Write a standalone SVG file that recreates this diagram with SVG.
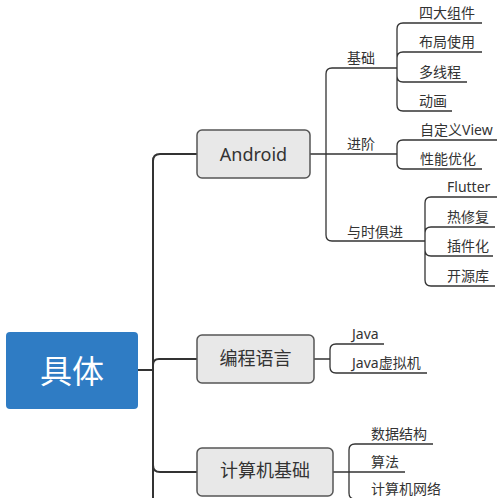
<svg xmlns="http://www.w3.org/2000/svg" width="500" height="498" viewBox="0 0 500 498">
<style>
text{font-family:"Noto Sans","Noto Sans CJK SC",sans-serif;fill:#333}
.main rect{fill:#e8e8e8;stroke:#555;stroke-width:1.5}
.main text{font-size:18px;text-anchor:middle}
.sub{font-size:14px}
.trunk{fill:none;stroke:#333;stroke-width:2}
.thin{fill:none;stroke:#333;stroke-width:1.3}
</style>
<g id="connectors">
<path class="trunk" d="M138,370 H153 M153,370 V161 Q153,154 160,154 H197 M153,370 V365 Q153,359 159,359 H197 M153,370 V465 Q153,472 160,472 H197 M153,370 V498"/>
<path class="thin" d="M310,154 H397 M326,154 V74 Q326,68 332,68 H397 M326,154 V235 Q326,241 332,241 H425"/>
<path class="thin" d="M397,68 V29 Q397,23 403,23 H482 M397,68 V58 Q397,52 403,52 H482 M397,68 V76 Q397,82 403,82 H467 M397,68 V105 Q397,111 403,111 H452"/>
<path class="thin" d="M397,154 V146 Q397,140 403,140 H497 M397,154 V163 Q397,169 403,169 H482"/>
<path class="thin" d="M425,241 V203 Q425,197 431,197 H497 M425,241 V233 Q425,227 431,227 H495 M425,241 V250 Q425,256 431,256 H493 M425,241 V280 Q425,286 431,286 H495"/>
<path class="thin" d="M314,359 H330 M330,359 V350 Q330,344 336,344 H384 M330,359 V367 Q330,373 336,373 H427"/>
<path class="thin" d="M333,472 H405 M349,472 V450 Q349,444 355,444 H433 M349,472 V493 Q349,499 355,499 H448"/>
</g>
<g id="root">
<rect x="6" y="332" width="132" height="77" rx="4" fill="#2f7cc4"/>
<text x="72" y="383" style="font-size:32px;fill:#fff;text-anchor:middle">具体</text>
</g>
<g id="android" class="main">
<rect x="197" y="130" width="113" height="48" rx="5"/>
<text x="253.5" y="161">Android</text>
</g>
<g id="biancheng" class="main">
<rect x="197" y="335" width="117" height="48" rx="5"/>
<text x="255.5" y="365">编程语言</text>
</g>
<g id="jisuanji" class="main">
<rect x="197" y="448" width="136" height="48" rx="5"/>
<text x="265" y="477">计算机基础</text>
</g>
<g id="android-children" class="sub">
<text x="347" y="63">基础</text>
<text x="347" y="149">进阶</text>
<text x="347" y="237">与时俱进</text>
</g>
<g id="jichu-children" class="sub">
<text x="419" y="18">四大组件</text>
<text x="419" y="47">布局使用</text>
<text x="419" y="77">多线程</text>
<text x="419" y="106">动画</text>
</g>
<g id="jinjie-children" class="sub">
<text x="420" y="135">自定义View</text>
<text x="420" y="164">性能优化</text>
</g>
<g id="yushijujin-children" class="sub">
<text x="447" y="192">Flutter</text>
<text x="447" y="222">热修复</text>
<text x="447" y="251">插件化</text>
<text x="447" y="281">开源库</text>
</g>
<g id="biancheng-children" class="sub">
<text x="352" y="339">Java</text>
<text x="352" y="368">Java虚拟机</text>
</g>
<g id="jisuanji-children" class="sub">
<text x="371" y="439">数据结构</text>
<text x="371" y="467">算法</text>
<text x="371" y="494">计算机网络</text>
</g>
</svg>
